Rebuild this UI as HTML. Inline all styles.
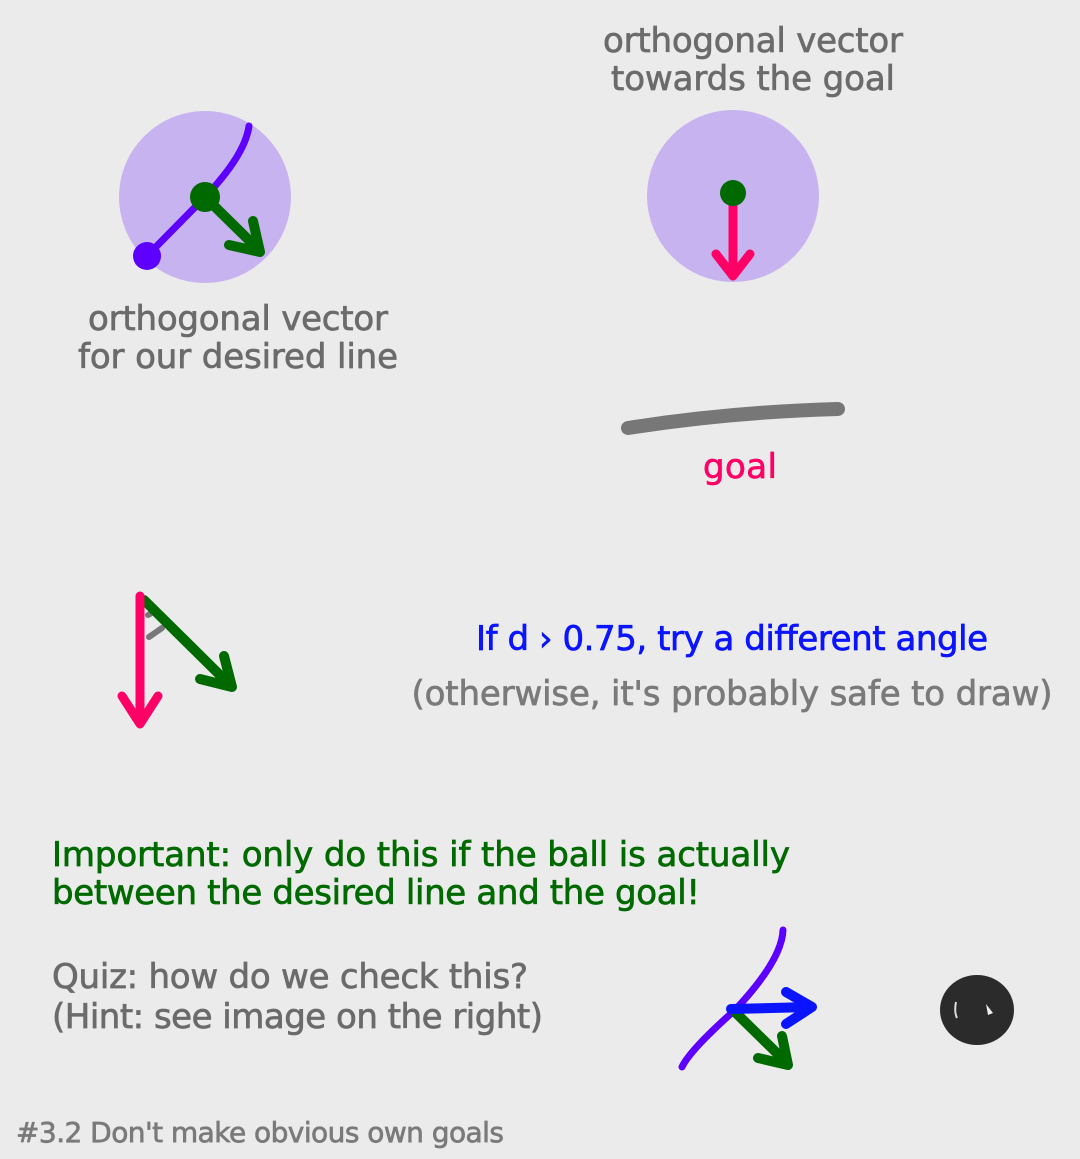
<!DOCTYPE html>
<html><head><meta charset="utf-8"><style>
html,body{margin:0;padding:0;background:#ebebeb;}
svg{display:block;}
text{font-family:"DejaVu Sans","Liberation Sans",sans-serif;stroke-width:0.7px;}
</style></head><body>
<svg width="1080" height="1159" viewBox="0 0 1080 1159">
<rect width="1080" height="1159" fill="#ebebeb"/>
<g>
<circle cx="205" cy="197" r="86" fill="#c6b3ef"/>
<path d="M147 256 L205 197 Q245 155 249 126" stroke="#5e00ff" stroke-width="7" fill="none" stroke-linecap="round"/>
<circle cx="147" cy="256" r="14" fill="#5e00ff"/>
<g stroke="#006a00" stroke-width="10" stroke-linecap="round" stroke-linejoin="round" fill="none">
<path d="M205 197 L259 250"/><path d="M229 245 L260 252 L253 221"/>
</g>
<circle cx="205" cy="197" r="15" fill="#006a00"/>
</g>
<text x="238" y="330" font-size="34" fill="#6b6b6b" stroke="#6b6b6b" text-anchor="middle" textLength="300">orthogonal vector</text>
<text x="238" y="368" font-size="34" fill="#6b6b6b" stroke="#6b6b6b" text-anchor="middle" textLength="320">for our desired line</text>
<text x="753" y="52" font-size="34" fill="#6b6b6b" stroke="#6b6b6b" text-anchor="middle" textLength="300">orthogonal vector</text>
<text x="753" y="90" font-size="34" fill="#6b6b6b" stroke="#6b6b6b" text-anchor="middle" textLength="284">towards the goal</text>
<circle cx="733" cy="196" r="86" fill="#c6b3ef"/>
<g stroke="#ff0066" stroke-width="9" stroke-linecap="round" stroke-linejoin="round" fill="none">
<path d="M733 195 L733 274"/><path d="M716 254 L733 276 L750 254"/>
</g>
<circle cx="733" cy="193" r="13" fill="#006a00"/>
<path d="M628 428 Q730 412 838 409" stroke="#777" stroke-width="14" stroke-linecap="round" fill="none"/>
<text x="740" y="478" font-size="34" fill="#ff0066" stroke="#ff0066" text-anchor="middle" textLength="74">goal</text>
<g>
<path d="M149 637 L162 628 M148 615 L150 614" stroke="#777" stroke-width="6" stroke-linecap="round"/>
<g stroke="#006a00" stroke-width="10" stroke-linecap="round" stroke-linejoin="round" fill="none">
<path d="M144 600 L230 685"/><path d="M200 679 L232 687 L224 656"/>
</g>
<g stroke="#ff0066" stroke-width="9" stroke-linecap="round" stroke-linejoin="round" fill="none">
<path d="M140 596 L140 722"/><path d="M122 696 L140 724 L158 696"/>
</g>
</g>
<text x="732" y="650" font-size="34" fill="#0a14ff" stroke="#0a14ff" text-anchor="middle" textLength="512">If d › 0.75, try a different angle</text>
<text x="732" y="705" font-size="34" fill="#7a7a7a" stroke="#7a7a7a" text-anchor="middle" textLength="641">(otherwise, it's probably safe to draw)</text>
<text x="52" y="866" font-size="34" fill="#006a00" stroke="#006a00" textLength="738">Important: only do this if the ball is actually</text>
<text x="52" y="904" font-size="34" fill="#006a00" stroke="#006a00" textLength="648">between the desired line and the goal!</text>
<text x="52" y="988" font-size="34" fill="#6b6b6b" stroke="#6b6b6b" textLength="476">Quiz: how do we check this?</text>
<text x="52" y="1028" font-size="34" fill="#6b6b6b" stroke="#6b6b6b" textLength="491">(Hint: see image on the right)</text>
<g>
<path d="M682 1067 Q690 1050 735 1010 Q782 960 783 930" stroke="#5e00ff" stroke-width="7" fill="none" stroke-linecap="round"/>
<g stroke="#006a00" stroke-width="10" stroke-linecap="round" stroke-linejoin="round" fill="none">
<path d="M736 1013 L786 1062"/><path d="M758 1058 L788 1065 L782 1036"/>
</g>
<g stroke="#0a14ff" stroke-width="10" stroke-linecap="round" stroke-linejoin="round" fill="none">
<path d="M731 1009 L810 1007"/><path d="M786 992 L812 1007 L786 1024"/>
</g>
<ellipse cx="977" cy="1010" rx="37" ry="35" fill="#2b2b2b"/>
<path d="M956 1002 Q954 1012 957 1018" stroke="#ddd" stroke-width="2" fill="none"/>
<path d="M986 1004 L993 1013 L988 1015 Z" fill="#eee"/>
</g>
<text x="16" y="1142" font-size="28" fill="#7a7a7a" stroke="#7a7a7a" stroke-width="0.4" textLength="488">#3.2 Don't make obvious own goals</text>
</svg>
</body></html>
